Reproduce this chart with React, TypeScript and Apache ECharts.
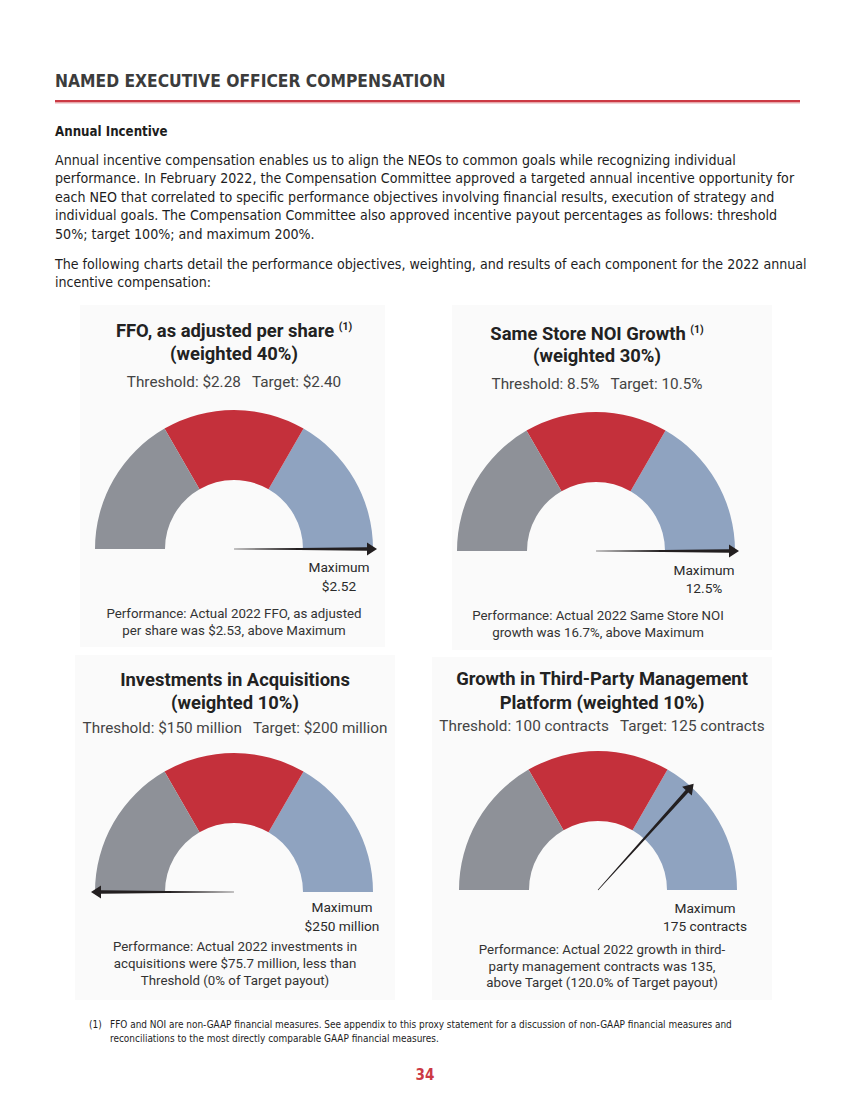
import React, { useEffect, useRef } from "react";
import * as echarts from "echarts";

// ---------- data ----------
const gaugeTitleLines = [
  ["FFO, as adjusted per share {sup|(1)}", "(weighted 40%)"],
  ["Same Store NOI Growth {sup|(1)}", "(weighted 30%)"],
  ["Investments in Acquisitions", "(weighted 10%)"],
  ["Growth in Third-Party Management", "Platform (weighted 10%)"],
];
const thresholdLabels = ["$2.28", "8.5%", "$150 million", "100 contracts"];
const targetLabels = ["$2.40", "10.5%", "$200 million", "125 contracts"];
const maximumLabels = ["$2.52", "12.5%", "$250 million", "175 contracts"];
const thresholdValues = [2.28, 8.5, 150, 100];
const targetValues = [2.4, 10.5, 200, 125];
const maximumValues = [2.52, 12.5, 250, 175];
const actualValues = [2.53, 16.7, 75.7, 135];
const performanceLines = [
  ["Performance: Actual 2022 FFO, as adjusted", "per share was $2.53, above Maximum"],
  ["Performance: Actual 2022 Same Store NOI", "growth was 16.7%, above Maximum"],
  [
    "Performance: Actual 2022 investments in",
    "acquisitions were $75.7 million, less than",
    "Threshold (0% of Target payout)",
  ],
  [
    "Performance: Actual 2022 growth in third-",
    "party management contracts was 135,",
    "above Target (120.0% of Target payout)",
  ],
];
const zoneColors = ["#8e9198", "#c4303b", "#8fa3c0"];

const headerText = "NAMED EXECUTIVE OFFICER COMPENSATION";
const sectionTitle = "Annual Incentive";
const paragraph1 = [
  "Annual incentive compensation enables us to align the NEOs to common goals while recognizing individual",
  "performance. In February 2022, the Compensation Committee approved a targeted annual incentive opportunity for",
  "each NEO that correlated to specific performance objectives involving financial results, execution of strategy and",
  "individual goals. The Compensation Committee also approved incentive payout percentages as follows: threshold",
  "50%; target 100%; and maximum 200%.",
];
const paragraph2 = [
  "The following charts detail the performance objectives, weighting, and results of each component for the 2022 annual",
  "incentive compensation:",
];
const footnoteLines = [
  "FFO and NOI are non-GAAP financial measures. See appendix to this proxy statement for a discussion of non-GAAP financial measures and",
  "reconciliations to the most directly comparable GAAP financial measures.",
];
const pageNumber = "34";

// ---------- layout ----------
const layout = [
  { cx: 234, cy: 549, tx: 234, titleY: [330, 353], subY: 382, maxX: 339, maxY: [567, 586], perfX: 234, perfY: [613, 630], panel: [80, 305, 305, 342] },
  { cx: 596, cy: 551, tx: 597, titleY: [333, 355], subY: 384, maxX: 704, maxY: [570, 588], perfX: 598, perfY: [615, 632], panel: [452, 305, 320, 345] },
  { cx: 234, cy: 892, tx: 235, titleY: [679, 702], subY: 728, maxX: 342, maxY: [907, 926], perfX: 235, perfY: [946, 963, 980], panel: [75, 655, 320, 345] },
  { cx: 598, cy: 890, tx: 602, titleY: [678, 702], subY: 726, maxX: 705, maxY: [908, 926], perfX: 602, perfY: [949, 966, 982], panel: [432, 657, 340, 343] },
];

const ARROW = "path://M6 0 L12.5 10 L7.8 10 L6.3 143 L5.7 143 L4.2 10 L-0.5 10 Z";
const BODY_FONT = "'Liberation Sans Narrow', 'DejaVu Sans Condensed', 'Liberation Sans', sans-serif";
const GAUGE_FONT = "Roboto, 'Noto Sans', sans-serif";

function gaugePosition(a: number, thr: number, tgt: number, max: number) {
  if (a <= thr) return 0;
  if (a <= tgt) return 1 + (a - thr) / (tgt - thr);
  if (a <= max) return 2 + (a - tgt) / (max - tgt);
  return 3;
}

function txt(x: number, y: number, text: string, o: any = {}) {
  return {
    type: "text",
    x,
    y,
    silent: true,
    style: {
      text,
      fill: o.fill || "#1d1d1d",
      fontSize: o.fontSize || 14,
      fontFamily: o.fontFamily || BODY_FONT,
      fontWeight: o.fontWeight || "normal",
      align: o.align || "left",
      textAlign: o.align || "left",
      verticalAlign: "middle",
      textVerticalAlign: "middle",
      rich: o.rich,
    },
  };
}

export default function App() {
  const ref = useRef<HTMLDivElement>(null);
  useEffect(() => {
    if (!ref.current) return;
    const chart = echarts.init(ref.current, undefined, { renderer: "svg" });
    const elements: any[] = [];

    // panels
    layout.forEach((l) => {
      elements.push({
        type: "rect",
        silent: true,
        z: -10,
        shape: { x: l.panel[0], y: l.panel[1], width: l.panel[2], height: l.panel[3] },
        style: { fill: "#fafafa" },
      });
    });

    // header
    elements.push(txt(55, 81, headerText, { fontSize: 17.3, fontWeight: "bold", fill: "#3c3c3c" }));
    elements.push({ type: "rect", silent: true, shape: { x: 55, y: 100, width: 745, height: 2.5 }, style: { fill: "#cc3a44" } });
    elements.push({ type: "rect", silent: true, shape: { x: 55, y: 102.5, width: 745, height: 1 }, style: { fill: "#e9b0b4" } });

    elements.push(txt(55, 131, sectionTitle, { fontSize: 13.2, fontWeight: "bold" }));
    paragraph1.forEach((line, i) => elements.push(txt(55, 160 + i * 18.4, line, { fontSize: 14.1 })));
    paragraph2.forEach((line, i) => elements.push(txt(55, 263.5 + i * 18.4, line, { fontSize: 14.1 })));

    // gauge texts
    layout.forEach((l, i) => {
      gaugeTitleLines[i].forEach((line, j) =>
        elements.push(
          txt(l.tx, l.titleY[j], line, {
            fontSize: 18.4,
            fontWeight: "bold",
            fontFamily: GAUGE_FONT,
            fill: "#222222",
            align: "center",
            rich: {
              sup: { fontSize: 10.5, fontWeight: "bold", fontFamily: GAUGE_FONT, fill: "#222222", verticalAlign: "top" },
            },
          })
        )
      );
      elements.push(
        txt(l.tx, l.subY, `Threshold: ${thresholdLabels[i]}   Target: ${targetLabels[i]}`, {
          fontSize: 15.3,
          fontFamily: GAUGE_FONT,
          fill: "#444444",
          align: "center",
        })
      );
      elements.push(txt(l.maxX, l.maxY[0], "Maximum", { fontSize: 13.7, fontFamily: GAUGE_FONT, fill: "#2a2a2a", align: "center" }));
      elements.push(txt(l.maxX, l.maxY[1], maximumLabels[i], { fontSize: 13.7, fontFamily: GAUGE_FONT, fill: "#2a2a2a", align: "center" }));
      performanceLines[i].forEach((line, j) =>
        elements.push(txt(l.perfX, l.perfY[j], line, { fontSize: 13.3, fontFamily: GAUGE_FONT, fill: "#333333", align: "center" }))
      );
    });

    // footnote
    elements.push(txt(89, 1024, "(1)", { fontSize: 10 }));
    footnoteLines.forEach((line, i) => elements.push(txt(110, 1024 + i * 14.5, line, { fontSize: 9.95 })));
    elements.push(txt(425, 1075, pageNumber, { fontSize: 15, fontWeight: "bold", fill: "#cc3a44", align: "center" }));

    const series = layout.map((l, i) => ({
      type: "gauge",
      center: [l.cx, l.cy],
      radius: 139,
      startAngle: 180,
      endAngle: 0,
      min: 0,
      max: 3,
      splitNumber: 3,
      axisLine: {
        show: true,
        roundCap: false,
        lineStyle: {
          width: 70,
          color: [
            [1 / 3, zoneColors[0]],
            [2 / 3, zoneColors[1]],
            [1, zoneColors[2]],
          ],
        },
      },
      progress: { show: false },
      axisTick: { show: false },
      splitLine: { show: false },
      axisLabel: { show: false },
      anchor: { show: false },
      title: { show: false },
      detail: { show: false },
      pointer: {
        show: true,
        icon: ARROW,
        length: 143,
        width: 13,
        offsetCenter: [0, 0],
        keepAspect: false,
        itemStyle: { color: "#231f20" },
      },
      data: [
        {
          value: gaugePosition(actualValues[i], thresholdValues[i], targetValues[i], maximumValues[i]),
          name: gaugeTitleLines[i][0],
        },
      ],
    }));

    chart.setOption({
      animation: false,
      backgroundColor: "#ffffff",
      series,
      graphic: { elements },
    });
    return () => chart.dispose();
  }, []);

  return (
    <div
      ref={ref}
      style={{ position: "absolute", left: 0, top: 0, width: 849, height: 1100 }}
    />
  );
}
